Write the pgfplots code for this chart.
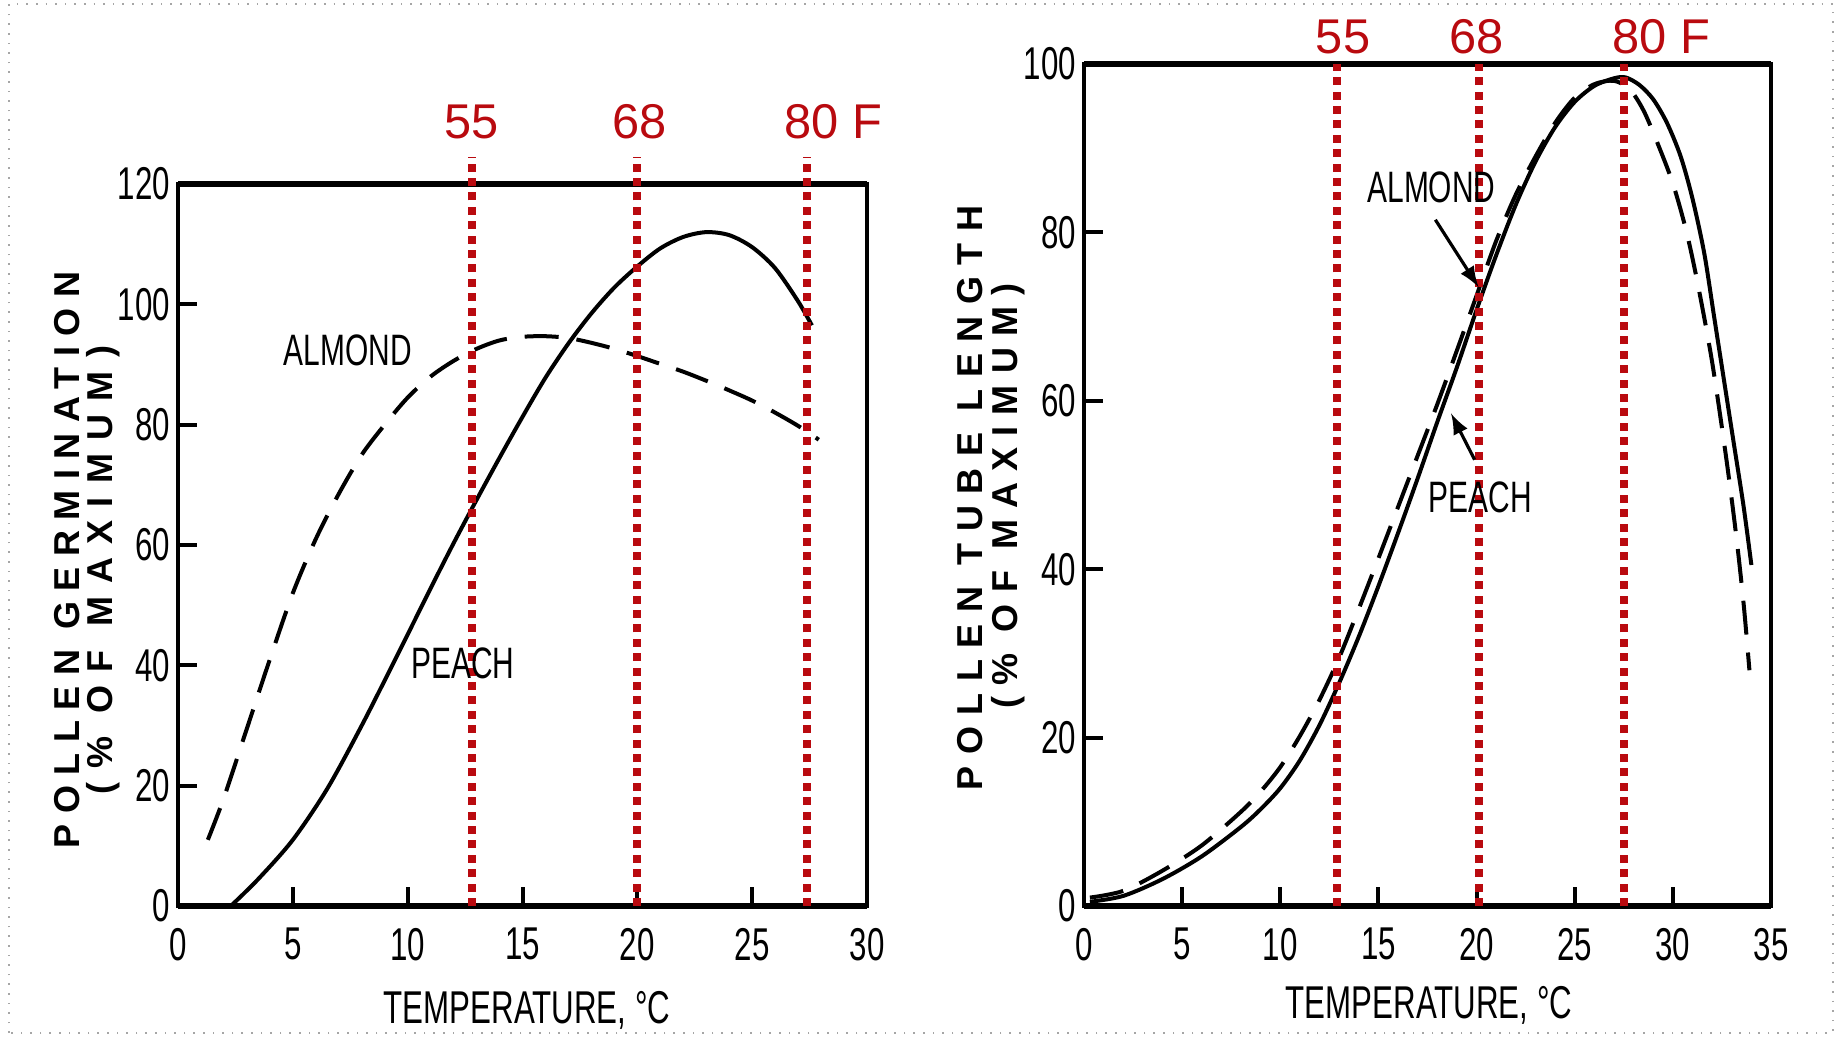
\documentclass[border=0pt]{standalone}
\usepackage{pgfplots}
\pgfplotsset{compat=1.18}
\usepackage{fontspec}
\setmainfont{Liberation Sans}
\newfontfamily\condfont[FakeStretch=0.68]{Liberation Sans}
\newfontfamily\spacedfont[LetterSpace=29]{Liberation Sans}
\newfontfamily\spacedfontb[LetterSpace=32]{Liberation Sans}
\newfontfamily\widerfont[LetterSpace=37]{Liberation Sans}
\newfontfamily\widerfontb[LetterSpace=31]{Liberation Sans}
\definecolor{fred}{RGB}{185,10,15}
\tikzset{
  redline/.style={draw=fred, line width=2pt, dash pattern=on 2pt off 1.6pt},
  redlab/.style={fred, anchor=base, font=\fontsize{12.2pt}{14pt}\selectfont},
  tag/.style={font=\condfont\fontsize{11pt}{12pt}\selectfont},
}
\pgfplotsset{
  oldchart/.style={
    scale only axis, anchor=south west, clip=false,
    axis line style={line width=0.8pt},
    tick align=inside, xtick pos=bottom, ytick pos=left,
    major tick length=4.7pt,
    tick style={black, line width=1pt},
    ticklabel style={font=\condfont\fontsize{11.5pt}{12pt}\selectfont},
    /pgf/number format/assume math mode=true,
    xticklabel style={yshift=-2pt},
    yticklabel style={xshift=1.5pt},
  },
  almond/.style={black, line width=1pt, smooth, dash pattern=on 8.5pt off 4.5pt},
  peach/.style={black, line width=1pt, smooth},
}
\begin{document}
\begin{tikzpicture}[x=0.25pt, y=0.25pt]
\useasboundingbox (0,0) rectangle (1837,1037);
\draw[gray!70, dotted] (9,4) rectangle (1833,1033);

% left: germination
\begin{axis}[oldchart, at={(44.5pt,32.75pt)}, width=172.25pt, height=180.5pt,
  xmin=0, xmax=30, ymin=0, ymax=120,
  xtick={0,5,...,30}, ytick={0,20,...,120}]
\addplot[peach] coordinates {
  (2.3,0) (3.5,4.5) (5,11) (6.5,19.5) (8,30) (9.5,41.3) (11,52.8) (12,60.3)
  (13,67.5) (14,74.5) (15,81.3) (16,87.8) (17,93.5) (18,98.5) (19,102.8)
  (20,106.3) (21,109.3) (22,111.2) (23,112) (24,111.5) (25,109.5) (26,106)
  (27,100.5) (27.6,96.5)
};
\addplot[almond] coordinates {
  (1.3,11) (2,18) (3,29.5) (4,41) (5,52) (6,61) (7,68.5) (8,75) (9,80)
  (10,84.5) (11,88) (12,90.6) (13,92.6) (14,94) (15,94.6) (16,94.7) (17,94.4)
  (18,93.6) (19,92.6) (20,91.4) (21,90.1) (22,88.8) (23,87.3) (24,85.7)
  (25,84) (26,82) (27,79.8) (27.9,77.5)
};
\draw[line width=1.5pt] (rel axis cs:0,1) -- (rel axis cs:1,1);
\draw[line width=1.5pt] (rel axis cs:0,0) -- (rel axis cs:1,0);
\draw[redline] (axis cs:12.8,0) -- (axis cs:12.8,124.5);
\draw[redline] (axis cs:20,0) -- (axis cs:20,124.5);
\draw[redline] (axis cs:27.4,0) -- (axis cs:27.4,124.5);
\node[redlab] at (axis cs:12.8,127.6) {55};
\node[redlab] at (axis cs:20.1,127.6) {68};
\node[redlab] at (axis cs:27.6,127.6) {80\rlap{ F}};
\node[tag] at (axis cs:7.4,92.4) {ALMOND};
\node[tag] at (axis cs:12.4,40.4) {PEACH};
\end{axis}

% right: tube length
\begin{axis}[oldchart, at={(271pt,32.75pt)}, width=171.75pt, height=210.5pt,
  xmin=0, xmax=35, ymin=0, ymax=100,
  xtick={0,5,...,35}, ytick={0,20,...,100}]
\addplot[peach] coordinates {
  (0.3,0.5) (2,1.2) (4,3.2) (6,5.9) (8,9.4) (9,11.5) (10,14) (11,17.3)
  (12,21.5) (13,26.5) (14,32) (15,38) (16,44.3) (17,50.8) (18,57.5) (19,64)
  (20,70.8) (21,77.3) (22,83.3) (23,88.4) (24,92.5) (25,95.5) (26,97.4)
  (27,98.3) (27.6,98.4) (28.3,97.5) (29,95.8) (29.7,93) (30.4,89) (31,84)
  (31.6,77.5) (32.1,70) (32.6,62.5) (33.1,55) (33.6,47.5) (34,40.5)
};
\addplot[almond] coordinates {
  (0.3,1) (2,1.8) (4,4.2) (6,7.2) (8,11.2) (9,13.6) (10,16.5) (11,20.2)
  (12,24.5) (13,29.5) (14,35.3) (15,41.3) (16,47.4) (17,53.5) (18,59.6)
  (19,66) (20,72.5) (21,79) (22,84.5) (23,89) (24,93) (25,96) (26,97.6)
  (27,98) (27.8,97) (28.5,94.5) (29.2,90.7) (30,85.8) (30.7,80) (31.3,73.5)
  (32,64.6) (32.7,53.5) (33.2,44.5) (33.6,36) (33.9,28)
};
\draw[line width=1.5pt] (rel axis cs:0,1) -- (rel axis cs:1,1);
\draw[line width=1.5pt] (rel axis cs:0,0) -- (rel axis cs:1,0);
\draw[redline] (axis cs:12.9,0) -- (axis cs:12.9,100);
\draw[redline] (axis cs:20.1,0) -- (axis cs:20.1,100);
\draw[redline] (axis cs:27.5,0) -- (axis cs:27.5,100);
\node[redlab] at (axis cs:13.2,101.3) {55};
\node[redlab] at (axis cs:20,101.3) {68};
\node[redlab] at (axis cs:28.3,101.3) {80\rlap{ F}};
\node[tag] at (axis cs:17.7,85.4) {ALMOND};
\node[tag] at (axis cs:20.2,48.5) {PEACH};
\draw[-latex, line width=0.8pt] (axis cs:17.9,81.5) -- (axis cs:20.1,73.5);
\draw[-latex, line width=0.8pt] (axis cs:19.9,53) -- (axis cs:18.7,58.5);
\end{axis}

% axis titles
\node[rotate=90, font=\spacedfont\bfseries\fontsize{9pt}{10pt}\selectfont] at (67,477) {POLLEN GERMINATION};
\node[rotate=90, font=\widerfont\bfseries\fontsize{9pt}{10pt}\selectfont] at (103,467) {(\% OF MAXIMUM)};
\node[rotate=90, font=\spacedfontb\bfseries\fontsize{9pt}{10pt}\selectfont] at (970,539) {POLLEN TUBE LENGTH};
\node[rotate=90, font=\widerfontb\bfseries\fontsize{9pt}{10pt}\selectfont] at (1008,541) {(\% OF MAXIMUM)};
\node[font=\condfont\fontsize{11.5pt}{12pt}\selectfont] at (527,27) {TEMPERATURE, °C};
\node[font=\condfont\fontsize{11.5pt}{12pt}\selectfont] at (1429,32) {TEMPERATURE, °C};
\end{tikzpicture}
\end{document}
